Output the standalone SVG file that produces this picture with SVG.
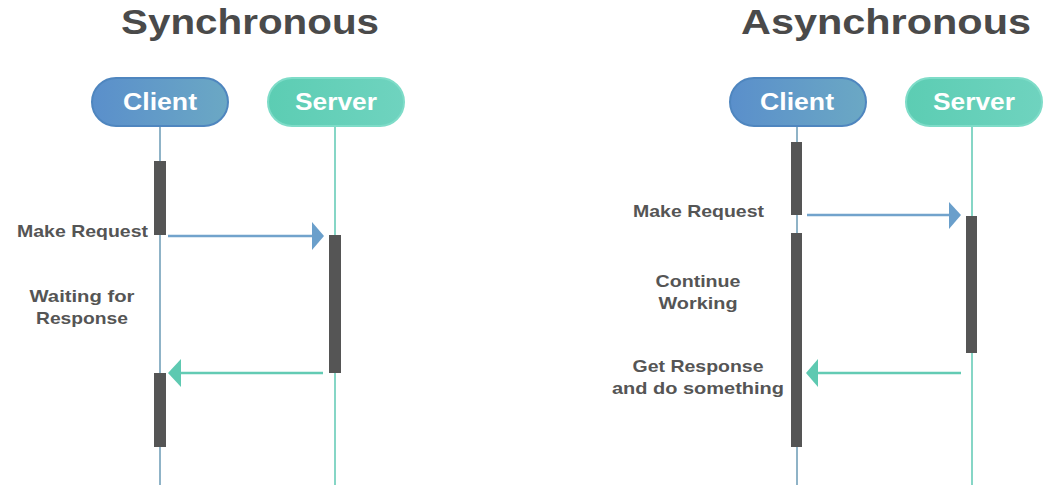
<svg xmlns="http://www.w3.org/2000/svg" width="1059" height="500" viewBox="0 0 1059 500">
  <defs>
    <linearGradient id="gClient" x1="0" y1="0" x2="1" y2="0">
      <stop offset="0" stop-color="#5a8fcb"/>
      <stop offset="1" stop-color="#6ba8c4"/>
    </linearGradient>
    <linearGradient id="gServer" x1="0" y1="0" x2="1" y2="0">
      <stop offset="0" stop-color="#5ccdb3"/>
      <stop offset="1" stop-color="#6fd3bf"/>
    </linearGradient>
    <style>
      .title { font-family: "Liberation Sans", Arial, sans-serif; font-weight: bold; font-size: 35px; fill: #4a4a4a; text-anchor: middle; }
      .pillC { fill: url(#gClient); stroke: #4f86bf; stroke-width: 2; }
      .pillS { fill: url(#gServer); stroke: #7edcc8; stroke-width: 2; }
      .pillText { font-family: "Liberation Sans", Arial, sans-serif; font-weight: bold; font-size: 23px; fill: #ffffff; text-anchor: middle; }
      .lifeC { stroke: #8fb3c7; stroke-width: 2; fill: none; }
      .lifeS { stroke: #86d6c6; stroke-width: 2; fill: none; }
      .bar { fill: #555555; }
      .req { stroke: #72a3cc; stroke-width: 2.5; fill: none; }
      .resp { stroke: #63cbb4; stroke-width: 2.5; fill: none; }
      .reqHead { fill: #6a9fcb; }
      .respHead { fill: #5ec9b1; }
      .label { font-family: "Liberation Sans", Arial, sans-serif; font-weight: bold; font-size: 17px; fill: #555555; }
      .mid { text-anchor: middle; }
      .end { text-anchor: end; }
    </style>
  </defs>
  <rect width="1059" height="500" fill="#ffffff"/>

  <text class="title" x="250" y="34" textLength="258" lengthAdjust="spacingAndGlyphs">Synchronous</text>
  <text class="title" x="886" y="34" textLength="290" lengthAdjust="spacingAndGlyphs">Asynchronous</text>

  <!-- Synchronous -->
  <g id="sync-client">
    <line class="lifeC" x1="160" y1="126" x2="160" y2="485"/>
    <rect class="pillC" x="92" y="78" width="136" height="48" rx="24"/>
    <text class="pillText" x="160" y="110" textLength="74" lengthAdjust="spacingAndGlyphs">Client</text>
    <rect class="bar" x="154" y="161" width="12" height="74"/>
    <rect class="bar" x="154" y="373" width="12" height="74"/>
  </g>
  <g id="sync-server">
    <line class="lifeS" x1="335" y1="126" x2="335" y2="485"/>
    <rect class="pillS" x="268" y="78" width="136" height="48" rx="24"/>
    <text class="pillText" x="336" y="110" textLength="82" lengthAdjust="spacingAndGlyphs">Server</text>
    <rect class="bar" x="329" y="235" width="12" height="138"/>
  </g>
  <g id="sync-labels">
    <text class="label end" x="148" y="237" textLength="131" lengthAdjust="spacingAndGlyphs">Make Request</text>
    <text class="label mid" x="82" y="302" textLength="105" lengthAdjust="spacingAndGlyphs">Waiting for</text>
    <text class="label mid" x="82" y="324" textLength="92" lengthAdjust="spacingAndGlyphs">Response</text>
  </g>

  <!-- Asynchronous -->
  <g id="async-client">
    <line class="lifeC" x1="797" y1="126" x2="797" y2="485"/>
    <rect class="pillC" x="730" y="78" width="136" height="48" rx="24"/>
    <text class="pillText" x="797" y="110" textLength="74" lengthAdjust="spacingAndGlyphs">Client</text>
    <rect class="bar" x="791" y="142" width="11" height="73"/>
    <rect class="bar" x="791" y="233" width="11" height="214"/>
  </g>
  <g id="async-server">
    <line class="lifeS" x1="972" y1="126" x2="972" y2="485"/>
    <rect class="pillS" x="906" y="78" width="136" height="48" rx="24"/>
    <text class="pillText" x="974" y="110" textLength="82" lengthAdjust="spacingAndGlyphs">Server</text>
    <rect class="bar" x="966" y="216" width="11" height="137"/>
  </g>
  <g id="async-labels">
    <text class="label end" x="764" y="217" textLength="131" lengthAdjust="spacingAndGlyphs">Make Request</text>
    <text class="label mid" x="698" y="287" textLength="85" lengthAdjust="spacingAndGlyphs">Continue</text>
    <text class="label mid" x="698" y="309" textLength="79" lengthAdjust="spacingAndGlyphs">Working</text>
    <text class="label mid" x="698" y="372" textLength="131" lengthAdjust="spacingAndGlyphs">Get Response</text>
    <text class="label mid" x="698" y="394" textLength="172" lengthAdjust="spacingAndGlyphs">and do something</text>
  </g>

  <g id="connectors">
    <line class="req" x1="168" y1="236" x2="313" y2="236"/>
    <polygon class="reqHead" points="312,222 324,236 312,250"/>
    <line class="resp" x1="323" y1="373" x2="180" y2="373"/>
    <polygon class="respHead" points="181,359 168,373 181,387"/>

    <line class="req" x1="807" y1="215" x2="950" y2="215"/>
    <polygon class="reqHead" points="949,202 961,215 949,229"/>
    <line class="resp" x1="961" y1="373" x2="817" y2="373"/>
    <polygon class="respHead" points="818,359 806,373 818,387"/>
  </g>
</svg>
